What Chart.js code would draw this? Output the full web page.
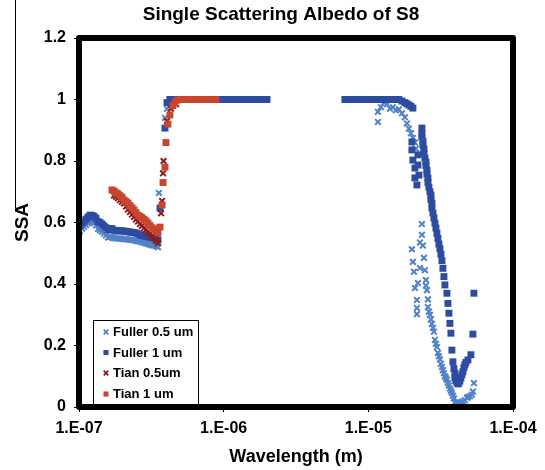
<!DOCTYPE html>
<html>
<head>
<meta charset="utf-8">
<script src="https://cdn.jsdelivr.net/npm/chart.js@4.4.1/dist/chart.umd.min.js"></script>
<style>
  html, body { margin: 0; padding: 0; background: #fff; }
  #wrap { position: relative; width: 545px; height: 470px; }
</style>
</head>
<body>
<div id="wrap"><canvas id="ssaChart" width="545" height="470"></canvas></div>
<script>
// ---- data (wavelength in m, SSA) ----
const chartTitle = 'Single Scattering Albedo of S8';
const xTitle = 'Wavelength (m)';
const yTitle = 'SSA';
const xTickValues = [1e-7, 1e-6, 1e-5, 1e-4];
const xTickLabels = ['1.E-07', '1.E-06', '1.E-05', '1.E-04'];
const yTickLabels = ['0', '0.2', '0.4', '0.6', '0.8', '1', '1.2'];
const seriesNames = ['Fuller 0.5 um', 'Fuller 1 um', 'Tian 0.5um', 'Tian 1 um'];

const fullerHalfWl = [
  1.016e-7,1.049e-7,1.083e-7,1.118e-7,1.154e-7,1.191e-7,1.230e-7,1.270e-7,1.311e-7,1.353e-7,
  1.397e-7,1.442e-7,1.489e-7,1.537e-7,1.587e-7,1.638e-7,1.691e-7,1.746e-7,1.802e-7,1.860e-7,
  1.920e-7,1.983e-7,2.047e-7,2.113e-7,2.181e-7,2.251e-7,2.324e-7,2.399e-7,2.477e-7,2.557e-7,
  2.639e-7,2.725e-7,2.813e-7,2.904e-7,2.997e-7,3.094e-7,3.194e-7,3.297e-7,3.404e-7,3.515e-7,
  3.57e-7,3.93e-7,4.06e-7,
  4.25e-7,4.46e-7,4.68e-7,4.99e-7,5.23e-7,5.49e-7,5.76e-7,6.04e-7,6.34e-7,6.65e-7,6.97e-7,
  7.31e-7,7.67e-7,8.05e-7,8.44e-7,8.85e-7,9.28e-7,9.73e-7,1.021e-6,1.071e-6,1.123e-6,1.179e-6,
  1.236e-6,1.296e-6,1.360e-6,1.426e-6,1.496e-6,1.569e-6,1.646e-6,1.726e-6,1.810e-6,1.899e-6,1.992e-6,
  6.89e-6,7.23e-6,7.58e-6,7.95e-6,8.34e-6,8.75e-6,9.18e-6,9.63e-6,1.010e-5,1.059e-5,1.111e-5,
  1.165e-5,1.165e-5,1.222e-5,1.282e-5,1.345e-5,1.411e-5,1.479e-5,1.551e-5,1.627e-5,1.707e-5,
  1.790e-5,1.849e-5,1.908e-5,1.970e-5,2.033e-5,2.099e-5,2.133e-5,
  2.346e-5,2.346e-5,2.273e-5,2.384e-5,2.001e-5,2.033e-5,2.066e-5,2.273e-5,2.461e-5,2.501e-5,
  2.202e-5,2.099e-5,2.167e-5,2.167e-5,2.167e-5,2.423e-5,
  2.501e-5,2.541e-5,2.582e-5,2.582e-5,2.623e-5,2.666e-5,2.708e-5,2.751e-5,2.796e-5,2.841e-5,
  2.886e-5,2.933e-5,2.980e-5,3.027e-5,3.075e-5,3.125e-5,3.175e-5,3.226e-5,3.278e-5,3.331e-5,
  3.384e-5,3.439e-5,3.494e-5,3.549e-5,3.606e-5,3.664e-5,3.722e-5,3.782e-5,3.843e-5,3.905e-5,
  3.967e-5,4.030e-5,4.097e-5,4.161e-5,4.295e-5,4.436e-5,4.507e-5,4.652e-5,4.802e-5,4.880e-5,
  5.037e-5,5.200e-5,5.283e-5,5.368e-5
];
const fullerHalfSsa = [
  0.572,0.580,0.586,0.592,0.598,0.602,0.601,0.598,0.590,0.579,
  0.575,0.570,0.564,0.558,0.551,0.553,0.552,0.549,0.548,0.548,
  0.548,0.547,0.546,0.546,0.545,0.544,0.543,0.542,0.540,0.539,
  0.538,0.536,0.534,0.532,0.530,0.528,0.526,0.525,0.523,0.520,
  0.696,0.94,0.97,
  1,1,1,1,1,1,1,1,1,1,1,
  1,1,1,1,1,1,1,1,1,1,1,
  1,1,1,1,1,1,1,1,1,1,1,
  1,1,1,1,1,1,1,1,1,1,1,
  0.96,0.927,0.975,0.99,0.985,0.97,0.975,0.965,0.968,0.955,
  0.942,0.922,0.905,0.89,0.875,0.86,0.84,
  0.595,0.56,0.535,0.525,0.513,0.472,0.44,0.452,0.445,0.413,
  0.403,0.387,0.348,0.322,0.302,0.485,
  0.395,0.38,0.35,0.325,0.31,0.30,0.285,0.27,0.257,0.245,
  0.218,0.205,0.195,0.176,0.165,0.155,0.14,0.13,0.12,0.11,
  0.10,0.094,0.088,0.078,0.07,0.06,0.053,0.046,0.037,0.028,
  0.016,0.013,0.012,0.012,0.014,0.016,0.018,0.022,0.03,0.032,
  0.035,0.04,0.05,0.078
];

const fullerOneWl = [
  1.016e-7,1.049e-7,1.083e-7,1.118e-7,1.154e-7,1.191e-7,1.230e-7,1.270e-7,1.311e-7,1.353e-7,
  1.397e-7,1.442e-7,1.489e-7,1.537e-7,1.587e-7,1.638e-7,1.691e-7,1.746e-7,1.802e-7,1.860e-7,
  1.920e-7,1.983e-7,2.047e-7,2.113e-7,2.181e-7,2.251e-7,2.324e-7,2.399e-7,2.477e-7,2.557e-7,
  2.639e-7,2.725e-7,2.813e-7,2.904e-7,2.997e-7,3.094e-7,3.194e-7,3.297e-7,3.404e-7,3.515e-7,
  3.63e-7,3.93e-7,4.06e-7,
  4.25e-7,4.46e-7,4.68e-7,4.99e-7,5.23e-7,5.49e-7,5.76e-7,6.04e-7,6.34e-7,6.65e-7,6.97e-7,
  7.31e-7,7.67e-7,8.05e-7,8.44e-7,8.85e-7,9.28e-7,9.73e-7,1.021e-6,1.071e-6,1.123e-6,1.179e-6,
  1.236e-6,1.296e-6,1.360e-6,1.426e-6,1.496e-6,1.569e-6,1.646e-6,1.726e-6,1.810e-6,1.899e-6,1.992e-6,
  6.89e-6,7.23e-6,7.58e-6,7.95e-6,8.34e-6,8.75e-6,9.18e-6,9.63e-6,1.010e-5,1.059e-5,
  1.111e-5,1.165e-5,1.222e-5,1.282e-5,1.345e-5,1.411e-5,1.479e-5,1.551e-5,1.627e-5,
  1.707e-5,1.790e-5,1.849e-5,1.908e-5,1.970e-5,2.033e-5,
  2.001e-5,2.001e-5,2.033e-5,2.202e-5,2.099e-5,2.202e-5,2.099e-5,2.167e-5,2.237e-5,
  2.346e-5,2.346e-5,2.346e-5,2.384e-5,2.384e-5,2.423e-5,2.423e-5,2.461e-5,2.501e-5,2.501e-5,
  2.541e-5,2.541e-5,2.582e-5,2.582e-5,2.623e-5,2.666e-5,2.708e-5,2.708e-5,2.751e-5,2.751e-5,
  2.796e-5,2.841e-5,2.886e-5,2.933e-5,2.980e-5,3.027e-5,3.075e-5,3.125e-5,3.175e-5,3.226e-5,
  3.278e-5,3.331e-5,3.384e-5,3.494e-5,3.549e-5,3.606e-5,3.664e-5,3.722e-5,3.782e-5,3.843e-5,
  3.905e-5,3.967e-5,3.967e-5,4.030e-5,4.097e-5,4.161e-5,4.228e-5,4.295e-5,4.365e-5,4.436e-5,
  4.507e-5,4.578e-5,4.652e-5,4.726e-5,4.880e-5,5.118e-5,
  5.283e-5,5.368e-5
];
const fullerOneSsa = [
  0.592,0.598,0.604,0.611,0.618,0.624,0.623,0.620,0.614,0.603,
  0.600,0.595,0.589,0.583,0.576,0.580,0.580,0.575,0.573,0.573,
  0.573,0.573,0.572,0.571,0.570,0.569,0.568,0.567,0.566,0.563,
  0.560,0.558,0.557,0.555,0.554,0.552,0.551,0.550,0.548,0.543,
  0.647,0.907,0.99,
  1,1,1,1,1,1,1,1,1,1,1,
  1,1,1,1,1,1,1,1,1,1,1,
  1,1,1,1,1,1,1,1,1,1,1,
  1,1,1,1,1,1,1,1,1,1,
  1,1,1,1,1,1,1,1,1,
  0.995,0.99,0.986,0.982,0.978,0.972,
  0.862,0.836,0.803,0.82,0.777,0.787,0.745,0.722,0.754,
  0.907,0.89,0.878,0.865,0.852,0.84,0.826,0.81,0.797,0.785,
  0.771,0.758,0.745,0.73,0.715,0.70,0.689,0.675,0.663,0.647,
  0.631,0.615,0.598,0.582,0.565,0.548,0.53,0.515,0.497,0.476,
  0.451,0.424,0.397,0.37,0.337,0.305,0.272,0.24,0.185,0.147,
  0.125,0.11,0.095,0.085,0.08,0.075,0.078,0.085,0.095,0.105,
  0.115,0.128,0.137,0.145,0.153,0.17,
  0.237,0.37
];

const tianHalfWl = [
  1.746e-7,1.802e-7,1.860e-7,1.920e-7,1.983e-7,2.047e-7,2.113e-7,2.181e-7,2.251e-7,2.324e-7,
  2.399e-7,2.477e-7,2.557e-7,2.639e-7,2.725e-7,2.813e-7,2.904e-7,2.997e-7,3.094e-7,3.194e-7,
  3.297e-7,3.404e-7,3.515e-7,
  3.69e-7,3.75e-7,3.81e-7,3.84e-7,4.06e-7,4.32e-7,4.68e-7,
  4.99e-7,5.23e-7,5.49e-7,5.76e-7,6.04e-7,6.34e-7,6.65e-7,6.97e-7,7.31e-7,7.67e-7,
  8.05e-7,8.44e-7,8.85e-7
];
const tianHalfSsa = [
  0.688,0.684,0.679,0.673,0.668,0.662,0.652,0.642,0.634,0.626,
  0.618,0.610,0.603,0.595,0.589,0.582,0.576,0.569,0.563,0.555,
  0.548,0.541,0.533,
  0.63,0.67,0.76,0.80,0.93,0.97,0.985,
  1,1,1,1,1,1,1,1,1,1,
  1,1,1
];

const tianOneWl = [
  1.691e-7,1.746e-7,1.802e-7,1.860e-7,1.920e-7,1.983e-7,2.047e-7,2.113e-7,2.181e-7,2.251e-7,
  2.324e-7,2.399e-7,2.477e-7,2.557e-7,2.639e-7,2.725e-7,2.813e-7,2.904e-7,2.997e-7,3.094e-7,
  3.194e-7,3.297e-7,3.404e-7,3.515e-7,
  3.63e-7,3.75e-7,3.81e-7,3.93e-7,3.99e-7,4.12e-7,4.25e-7,4.46e-7,4.61e-7,4.76e-7,
  4.99e-7,5.23e-7,5.49e-7,5.76e-7,6.04e-7,6.34e-7,6.65e-7,6.97e-7,7.31e-7,7.67e-7,
  8.05e-7,8.44e-7,8.85e-7
];
const tianOneSsa = [
  0.706,0.702,0.697,0.693,0.687,0.682,0.673,0.668,0.663,0.655,
  0.648,0.641,0.632,0.624,0.620,0.616,0.610,0.605,0.598,0.590,
  0.583,0.579,0.573,0.566,
  0.585,0.657,0.73,0.78,0.86,0.92,0.95,0.98,0.99,0.998,
  1,1,1,1,1,1,1,1,1,1,
  1,1,1
];

const seriesColors = ['#5082c8', '#2d4ba0', '#8c1a1e', '#c8462d'];
const FONT = '"Liberation Sans", Arial, Helvetica, sans-serif';

const toPoints = (wl, ssa) => wl.map((w, i) => ({ x: w, y: ssa[i] }));

const datasets = [
  { label: seriesNames[0], data: toPoints(fullerHalfWl, fullerHalfSsa), pointStyle: 'crossRot',
    pointRadius: 4, borderWidth: 2, borderColor: seriesColors[0], backgroundColor: seriesColors[0], order: 4 },
  { label: seriesNames[1], data: toPoints(fullerOneWl, fullerOneSsa), pointStyle: 'rect',
    pointRadius: 4.9, borderWidth: 0, borderColor: seriesColors[1], backgroundColor: seriesColors[1], order: 3 },
  { label: seriesNames[2], data: toPoints(tianHalfWl, tianHalfSsa), pointStyle: 'crossRot',
    pointRadius: 4, borderWidth: 2, borderColor: seriesColors[2], backgroundColor: seriesColors[2], order: 2 },
  { label: seriesNames[3], data: toPoints(tianOneWl, tianOneSsa), pointStyle: 'rect',
    pointRadius: 4.9, borderWidth: 0, borderColor: seriesColors[3], backgroundColor: seriesColors[3], order: 1 }
];

// thick plot frame, boxed legend inside the plot, title
const decorPlugin = {
  id: 'decor',
  afterDatasetsDraw(chart) {
    const { ctx, chartArea: a } = chart;
    ctx.save();
    // legend box
    const lx = 93.5, ly = 320.5, lw = 105, lh = 85;
    ctx.fillStyle = '#fff';
    ctx.fillRect(lx, ly, lw, lh);
    ctx.strokeStyle = '#000';
    ctx.lineWidth = 1;
    ctx.strokeRect(lx, ly, lw, lh);
    const rows = [332, 352.5, 373, 394];
    ctx.font = 'bold 13px ' + FONT;
    ctx.textAlign = 'left';
    ctx.textBaseline = 'middle';
    chart.data.datasets.forEach((ds, i) => {
      const isRect = ds.pointStyle === 'rect';
      ctx.fillStyle = ds.backgroundColor;
      ctx.strokeStyle = ds.borderColor;
      ctx.lineWidth = isRect ? 0 : 1.8;
      Chart.helpers.drawPoint(ctx, {
        pointStyle: ds.pointStyle,
        radius: isRect ? 3.6 : 3.2,
        borderWidth: isRect ? 0 : 1.8,
        rotation: 0
      }, 106, rows[i]);
      ctx.fillStyle = '#000';
      ctx.fillText(ds.label, 113, rows[i] + 0.5);
    });
    ctx.restore();

    // frame
    ctx.save();
    ctx.strokeStyle = '#000';
    ctx.lineWidth = 6;
    ctx.lineJoin = 'round';
    ctx.strokeRect(a.left, a.top, a.right - a.left, a.bottom - a.top);
    ctx.restore();
  },
  afterDraw(chart) {
    const { ctx } = chart;
    ctx.save();
    ctx.fillStyle = '#000';
    ctx.font = 'bold 19px ' + FONT;
    ctx.textAlign = 'center';
    ctx.textBaseline = 'middle';
    ctx.fillText(chartTitle, 281, 15);
    // thin edge line at left of the source image
    ctx.strokeStyle = '#000';
    ctx.lineWidth = 1;
    ctx.beginPath();
    ctx.moveTo(15.5, 0);
    ctx.lineTo(15.5, 208);
    ctx.stroke();
    ctx.restore();
  }
};

new Chart(document.getElementById('ssaChart'), {
  type: 'scatter',
  data: { datasets },
  options: {
    responsive: false,
    animation: false,
    layout: { padding: { top: 38, right: 32, bottom: 0, left: 0 } },
    plugins: {
      legend: { display: false },
      title: { display: false },
      tooltip: { enabled: false }
    },
    scales: {
      x: {
        type: 'logarithmic',
        min: 1e-7,
        max: 1e-4,
        afterBuildTicks: s => { s.ticks = xTickValues.map(v => ({ value: v })); },
        afterFit: s => { s.height = 63; },
        ticks: {
          callback: (v, i) => xTickLabels[i],
          font: { family: FONT, size: 16, weight: 'bold' },
          color: '#000',
          padding: 7,
          maxRotation: 0,
          autoSkip: false
        },
        grid: { drawOnChartArea: false, drawTicks: true, tickLength: 5, color: '#000', lineWidth: 1 },
        border: { display: false },
        title: {
          display: true, text: xTitle, color: '#000',
          font: { family: FONT, size: 18, weight: 'bold' },
          padding: { top: 4, bottom: 2 }
        }
      },
      y: {
        min: 0,
        max: 1.2,
        afterFit: s => { s.width = 79; },
        ticks: {
          stepSize: 0.2,
          callback: (v, i) => yTickLabels[i],
          font: { family: FONT, size: 16, weight: 'bold' },
          color: '#000',
          padding: 8
        },
        grid: { drawOnChartArea: false, drawTicks: true, tickLength: 5, color: '#000', lineWidth: 1 },
        border: { display: false },
        title: {
          display: true, text: yTitle, color: '#000',
          font: { family: FONT, size: 19, weight: 'bold' },
          padding: { top: 11, bottom: 0 }
        }
      }
    }
  },
  plugins: [decorPlugin]
});
</script>
</body>
</html>
